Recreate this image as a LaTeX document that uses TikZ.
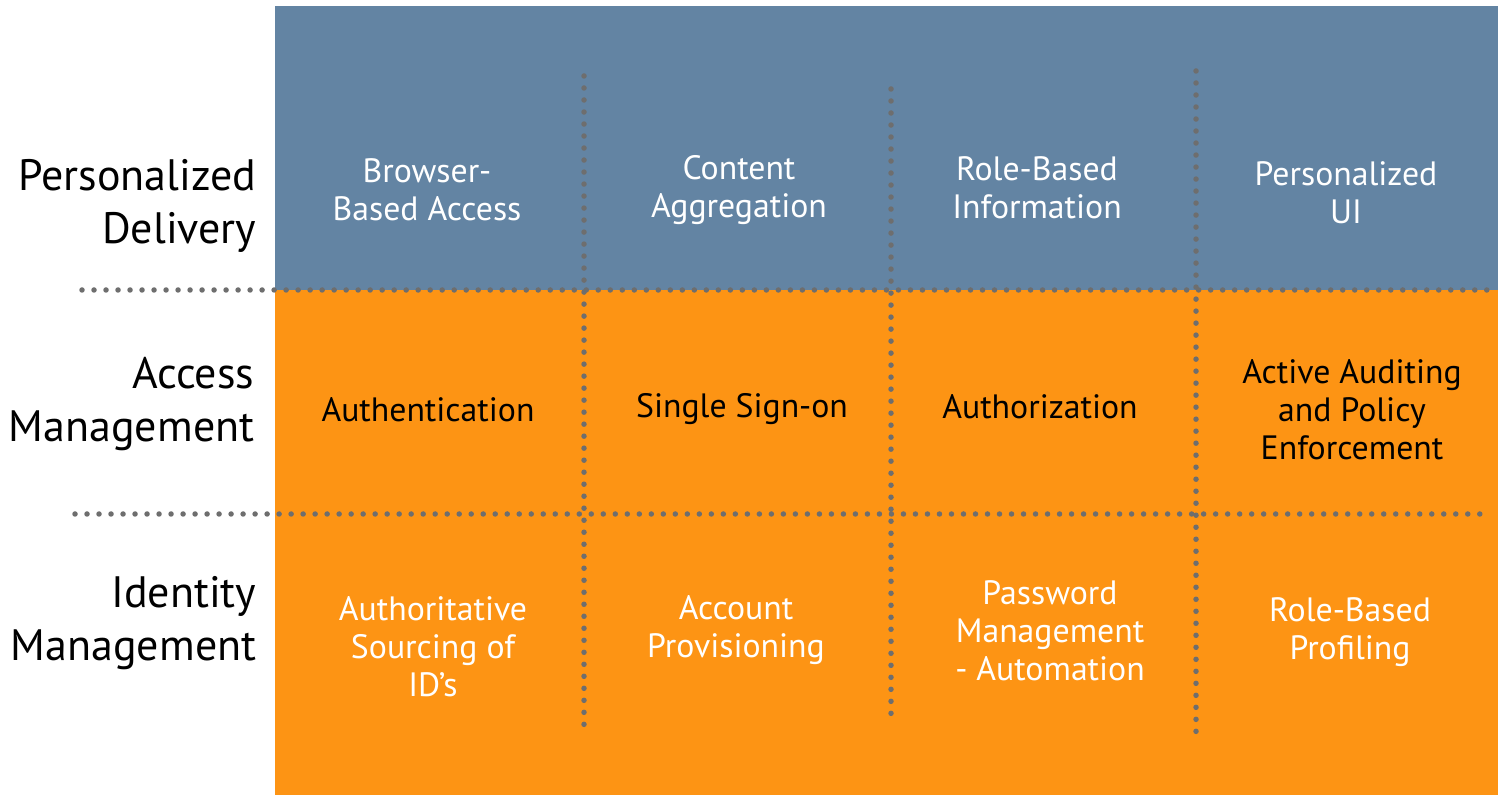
\documentclass[tikz,border=0pt]{standalone}
\usepackage{fontspec}
\setmainfont{PT Sans}
\usepackage{tikz}
\usetikzlibrary{positioning}
\definecolor{deliveryblue}{HTML}{6384A3}
\definecolor{mgmtorange}{HTML}{FD9414}
\definecolor{dotgray}{HTML}{6E6E6E}

\begin{document}
\begin{tikzpicture}[
    x=0.01cm, y=-0.01cm,
    cell/.style={align=center, font=\fontsize{9.6}{10.8}\selectfont, inner sep=0pt},
    lightcell/.style={cell, text=white},
    darkcell/.style={cell, text=black},
    layer/.style={align=right, anchor=east, font=\fontsize{12.5}{15}\selectfont, inner sep=0pt},
    dots/.style={dotgray, line width=0.055cm, line cap=round, dash pattern=on 0pt off 0.12cm}
  ]
    \useasboundingbox (0, 0) rectangle (1498, 795);

    % bands
    \fill[deliveryblue] (275, 6) rectangle (1498, 290);
    \fill[mgmtorange]   (275, 290) rectangle (1498, 795);

    % layer names
    \node[layer] (delivery) at (257, 206) {Personalized\\Delivery};
    \node[layer] (access)   at (255, 404) {Access\\Management};
    \node[layer] (identity) at (257, 623) {Identity\\Management};

    % personalized delivery
    \node[lightcell] (browser)  at (427, 190)  {Browser-\\Based Access};
    \node[lightcell] (content)  at (739, 190)  {Content\\Aggregation};
    \node[lightcell] (roleinfo) at (1037, 188) {Role-Based\\Information};
    \node[lightcell] (ui)       at (1346, 193) {Personalized\\UI};

    % access management
    \node[darkcell] (authn)  at (428, 410)  {Authentication};
    \node[darkcell] (sso)    at (742, 409)  {Single Sign-on};
    \node[darkcell] (authz)  at (1040, 407) {Authorization};
    \node[darkcell] (audit)  at (1352, 410) {Active Auditing\\and Policy\\Enforcement};

    % identity management
    \node[lightcell] (sourcing)  at (433, 647)  {Authoritative\\Sourcing of\\ID’s};
    \node[lightcell] (provision) at (736, 630)  {Account\\Provisioning};
    \node[lightcell] (password)  at (1050, 631) {Password\\Management\\- Automation};
    \node[lightcell] (roleprof)  at (1350, 632) {Role-Based\\Profiling};

    % separators
    \coordinate (topl)  at (82, 290);
    \coordinate (topr)  at (1498, 290);
    \coordinate (midl)  at (75, 514);
    \coordinate (midr)  at (1484, 514);
    \coordinate (colat) at (584, 76);
    \coordinate (colab) at (584, 728);
    \coordinate (colbt) at (891, 89);
    \coordinate (colbb) at (891, 716);
    \coordinate (colct) at (1196, 71);
    \coordinate (colcb) at (1196, 735);

    \draw[dots] (topl) -- (topr);
    \draw[dots] (midl) -- (midr);
    \draw[dots] (colat) -- (colab);
    \draw[dots] (colbt) -- (colbb);
    \draw[dots] (colct) -- (colcb);
  \end{tikzpicture}
\end{document}
